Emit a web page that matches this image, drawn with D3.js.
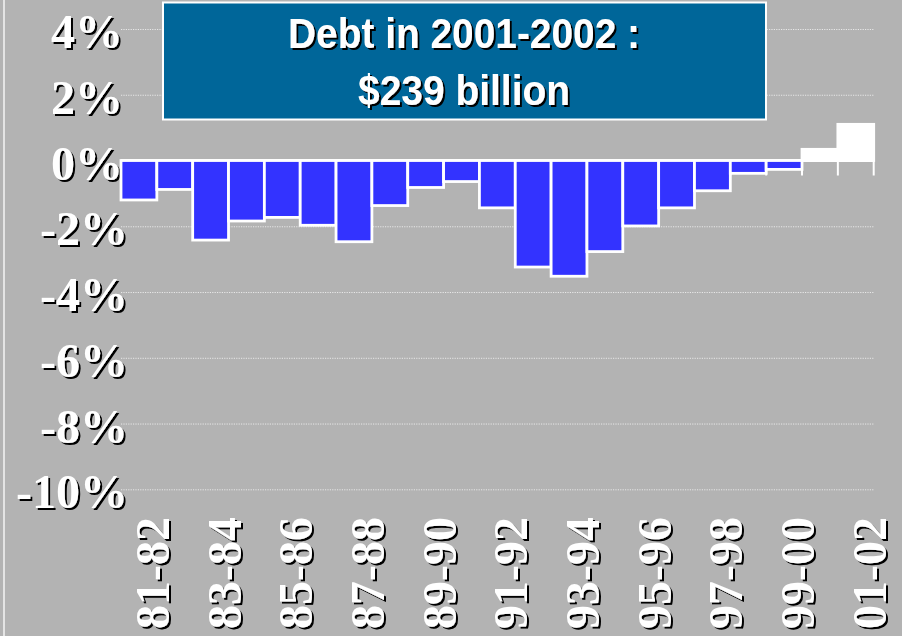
<!DOCTYPE html>
<html>
<head>
<meta charset="utf-8">
<script src="https://cdn.jsdelivr.net/npm/d3@7"></script>
<style>
  html, body { margin: 0; padding: 0; background: #b3b3b3; }
  svg { display: block; }
</style>
</head>
<body>
<svg id="chart" width="902" height="636"></svg>
<script>
// Fiscal years, one bar each
const categories = ["81-82","82-83","83-84","84-85","85-86","86-87","87-88","88-89","89-90","90-91",
                    "91-92","92-93","93-94","94-95","95-96","96-97","97-98","98-99","99-00","00-01","01-02"];
// Change in debt, percent
const debtChange = [-1.20,-0.88,-2.42,-1.84,-1.73,-1.97,-2.47,-1.37,-0.82,-0.64,
                    -1.44,-3.24,-3.52,-2.77,-1.99,-1.44,-0.92,-0.39,-0.27,0.34,1.10];
// Labelled years on the horizontal axis
const xTickLabels = ["81-82","83-84","85-86","87-88","89-90","91-92","93-94","95-96","97-98","99-00","01-02"];
// Percent ticks on the vertical axis
const yTicks = [4, 2, 0, -2, -4, -6, -8, -10];
const titleLines = ["Debt in 2001-2002 :", "$239 billion"];

const svg = d3.select("#chart");
const W = 902, H = 636;

// hard black drop shadow used by all lettering
const defs = svg.append("defs");
const f = defs.append("filter").attr("id", "hardShadow")
  .attr("x", "-10%").attr("y", "-10%").attr("width", "130%").attr("height", "130%");
f.append("feDropShadow").attr("dx", 2).attr("dy", 2).attr("stdDeviation", 0)
  .attr("flood-color", "#000").attr("flood-opacity", 1);

svg.append("rect").attr("width", W).attr("height", H).attr("fill", "#b3b3b3");
// thin frame line at the left edge
svg.append("rect").attr("x", 3).attr("y", 0).attr("width", 2).attr("height", H).attr("fill", "#e4e4e4");

const x = d3.scaleBand().domain(categories).range([121, 873.7]).padding(0);
const y = d3.scaleLinear().domain([-10, 4]).range([489.3, 29]);

// dotted gridlines
const grid = svg.append("g");
yTicks.filter(v => v !== 0).forEach(v => {
  grid.append("line")
    .attr("x1", x.range()[0]).attr("x2", x.range()[1])
    .attr("y1", y(v) + 0.5).attr("y2", y(v) + 0.5)
    .attr("stroke", "#e8e8e8").attr("stroke-width", 1)
    .attr("stroke-dasharray", "1.2,1.2");
});

// vertical axis labels
const serif = "'Liberation Serif', 'Times New Roman', serif";
svg.append("g").attr("filter", "url(#hardShadow)")
  .selectAll("text").data(yTicks).join("text")
  .attr("x", v => v < 0 ? 128 : 123)
  .attr("y", v => y(v) + 19)
  .attr("text-anchor", "end")
  .attr("font-family", serif).attr("font-weight", "bold").attr("font-size", 48)
  .attr("fill", "#fff")
  .text(v => `${v}%`);

// category ticks below the zero line
const ticks = svg.append("g");
categories.forEach(c => {
  const xx = x(c) + x.bandwidth();
  ticks.append("line")
    .attr("x1", xx).attr("x2", xx)
    .attr("y1", y(0)).attr("y2", y(0) + 15)
    .attr("stroke", "#fff").attr("stroke-width", 2);
});
// zero axis line
svg.append("line")
  .attr("x1", x.range()[0]).attr("x2", x.range()[1])
  .attr("y1", y(0)).attr("y2", y(0))
  .attr("stroke", "#fff").attr("stroke-width", 3);

// bars: deficits in blue, surpluses in white
svg.append("g").selectAll("rect")
  .data(categories.map((c, i) => ({ c, v: debtChange[i] })))
  .join("rect")
  .attr("x", d => x(d.c))
  .attr("width", x.bandwidth())
  .attr("y", d => y(Math.max(0, d.v)))
  .attr("height", d => Math.abs(y(d.v) - y(0)))
  .attr("fill", d => d.v < 0 ? "#3333ff" : "#ffffff")
  .attr("stroke", "#ffffff")
  .attr("stroke-width", 2.8);

// rotated year labels (shadow applied in screen space by the outer group)
svg.append("g").attr("filter", "url(#hardShadow)")
  .selectAll("text").data(xTickLabels).join("text")
  .attr("transform", c => `translate(${x(c) + x.bandwidth() / 2 + 30},517) rotate(-90)`)
  .attr("text-anchor", "end")
  .attr("font-family", serif).attr("font-weight", "bold").attr("font-size", 48)
  .attr("fill", "#fff")
  .text(c => c);

// headline box
const box = svg.append("g");
box.append("rect")
  .attr("x", 163).attr("y", 2.5).attr("width", 603).attr("height", 117)
  .attr("fill", "#006699").attr("stroke", "#fff").attr("stroke-width", 2);
const sans = "'Liberation Sans', Arial, sans-serif";
const lineLens = [352, 212];
const lineBase = [48, 105];
box.append("g").attr("filter", "url(#hardShadow)")
  .selectAll("text").data(titleLines).join("text")
  .attr("x", (t, i) => 464 - lineLens[i] / 2)
  .attr("y", (t, i) => lineBase[i])
  .attr("textLength", (t, i) => lineLens[i])
  .attr("lengthAdjust", "spacingAndGlyphs")
  .attr("font-family", sans).attr("font-weight", "bold").attr("font-size", 42)
  .attr("fill", "#fff")
  .text(t => t);
</script>
</body>
</html>
